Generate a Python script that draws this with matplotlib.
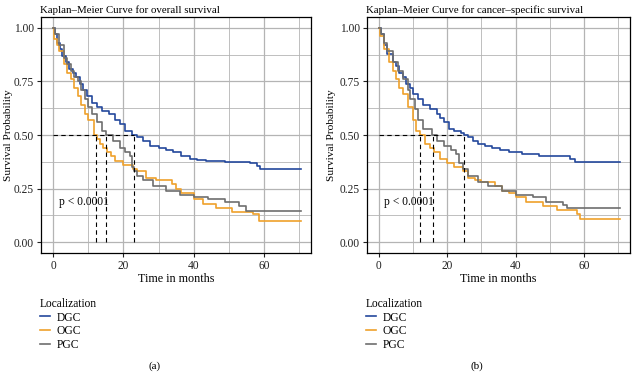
import matplotlib

matplotlib.use('Agg')
import matplotlib.pyplot as plt
from matplotlib.ticker import MultipleLocator

plt.rcParams['font.family'] = ['Liberation Serif', 'DejaVu Serif']

GROUPS = ['DGC', 'OGC', 'PGC']
COLORS = {'DGC': '#24489c', 'OGC': '#efa12b', 'PGC': '#6e6e6e'}

# panel (a): overall survival, step breakpoints (months, survival)
os_dgc_t = [0, 0.5, 1, 2, 2.5, 3.5, 4.5, 5.5, 6.5, 7.5, 8.5, 9.5, 11, 12.5, 14, 16, 17.5, 19, 20.5,
            22.5, 24, 25.6, 27.5, 30, 32, 34, 36.5, 39, 41, 43.6, 49, 56, 58.2, 58.8, 70.5]
os_dgc_s = [1.0, 0.97, 0.93, 0.90, 0.87, 0.84, 0.81, 0.79, 0.77, 0.74, 0.71, 0.68, 0.65, 0.63, 0.61,
            0.60, 0.57, 0.55, 0.52, 0.50, 0.49, 0.47, 0.45, 0.44, 0.43, 0.42, 0.40, 0.39, 0.385, 0.38,
            0.375, 0.37, 0.355, 0.34, 0.34]
os_ogc_t = [0, 0.3, 1, 1.5, 3, 4, 5, 6, 7, 8, 9, 10, 11.5, 12.5, 13.3, 14.3, 15.2, 16.5, 17.6, 20,
            22.8, 24, 26.5, 29.4, 33.7, 35, 36.5, 40, 42.6, 46.4, 51, 57, 58.7, 70.5]
os_ogc_s = [1.0, 0.95, 0.92, 0.89, 0.83, 0.79, 0.76, 0.72, 0.68, 0.64, 0.60, 0.57, 0.50, 0.48, 0.46,
            0.44, 0.42, 0.40, 0.38, 0.36, 0.34, 0.33, 0.30, 0.29, 0.27, 0.25, 0.23, 0.20, 0.18, 0.16,
            0.14, 0.13, 0.10, 0.10]
os_pgc_t = [0, 0.5, 1.5, 3, 4, 5, 6, 7, 8, 9, 10, 11, 12.5, 14, 15, 17, 19, 20.5, 22, 22.5, 23, 24,
            25.6, 28.5, 32, 36, 40, 44, 49, 53, 55, 70.5]
os_pgc_s = [1.0, 0.97, 0.92, 0.86, 0.83, 0.80, 0.77, 0.75, 0.71, 0.67, 0.63, 0.60, 0.56, 0.52, 0.50,
            0.47, 0.44, 0.42, 0.40, 0.35, 0.33, 0.31, 0.29, 0.26, 0.24, 0.22, 0.21, 0.20, 0.19, 0.17,
            0.145, 0.145]

# panel (b): cancer-specific survival
css_dgc_t = [0, 0.5, 1.5, 2.5, 4, 5, 6, 7, 8, 9, 10, 11.5, 13, 15, 17, 18, 19, 20.5, 22, 24, 25, 26,
             27.5, 29, 31, 33, 35.5, 38, 42, 47, 56, 57.5, 70.5]
css_dgc_s = [1.0, 0.97, 0.92, 0.88, 0.84, 0.82, 0.79, 0.77, 0.74, 0.72, 0.69, 0.67, 0.64, 0.62, 0.60,
             0.58, 0.56, 0.53, 0.52, 0.51, 0.50, 0.49, 0.47, 0.46, 0.45, 0.44, 0.43, 0.42, 0.41, 0.40,
             0.39, 0.372, 0.372]
css_ogc_t = [0, 0.3, 1.5, 3, 4, 5, 6, 7, 8.5, 10, 11, 12, 13.5, 15, 16, 18, 20, 22, 24.5, 26, 28, 30,
             34, 36, 38, 40, 43, 48, 52, 58, 59, 70.5]
css_ogc_s = [1.0, 0.96, 0.90, 0.84, 0.80, 0.76, 0.72, 0.69, 0.63, 0.57, 0.52, 0.50, 0.46, 0.44, 0.42,
             0.39, 0.37, 0.35, 0.33, 0.30, 0.29, 0.28, 0.26, 0.24, 0.23, 0.21, 0.19, 0.17, 0.15, 0.13,
             0.11, 0.11]
css_pgc_t = [0, 0.5, 1.5, 2.5, 4, 5.5, 7, 8.5, 9, 10.5, 11.5, 13, 15.5, 17, 19, 21, 22.5, 23.5, 24.5,
             26, 29, 32, 36, 40, 45, 49, 54, 55, 70.5]
css_pgc_s = [1.0, 0.97, 0.93, 0.89, 0.84, 0.80, 0.76, 0.71, 0.67, 0.62, 0.57, 0.53, 0.50, 0.47, 0.45,
             0.43, 0.41, 0.37, 0.34, 0.31, 0.28, 0.26, 0.24, 0.22, 0.21, 0.19, 0.175, 0.16, 0.16]

# median survival per group (months)
os_medians = [23.1, 12.1, 15.0]
css_medians = [24.9, 11.9, 15.8]

panels = [
    dict(title='Kaplan–Meier Curve for overall survival', tag='(a)',
         curves={'DGC': (os_dgc_t, os_dgc_s), 'OGC': (os_ogc_t, os_ogc_s),
                 'PGC': (os_pgc_t, os_pgc_s)},
         medians=os_medians, rect=[0.0644, 0.320, 0.424, 0.634], center=0.243, ypad=0.5),
    dict(title='Kaplan–Meier Curve for cancer–specific survival', tag='(b)',
         curves={'DGC': (css_dgc_t, css_dgc_s), 'OGC': (css_ogc_t, css_ogc_s),
                 'PGC': (css_pgc_t, css_pgc_s)},
         medians=css_medians, rect=[0.576, 0.320, 0.413, 0.634], center=0.748, ypad=3),
]

fig = plt.figure(figsize=(6.37, 3.72), dpi=100)

for p in panels:
    ax = fig.add_axes(p['rect'])
    ax.set_xlim(-3.5, 73.5)
    ax.set_ylim(-0.05, 1.05)
    ax.xaxis.set_major_locator(MultipleLocator(20))
    ax.xaxis.set_minor_locator(MultipleLocator(10))
    ax.yaxis.set_major_locator(MultipleLocator(0.25))
    ax.yaxis.set_minor_locator(MultipleLocator(0.125))
    ax.set_yticks([0, 0.25, 0.5, 0.75, 1.0])
    ax.set_yticklabels(['0.00', '0.25', '0.50', '0.75', '1.00'])
    ax.grid(which='major', color='#b4b4b4', lw=0.9)
    ax.grid(which='minor', color='#b4b4b4', lw=0.6)
    ax.set_axisbelow(True)
    ax.tick_params(which='major', length=3, width=0.8, labelsize=8.3, colors='#222222', pad=2)
    ax.tick_params(which='minor', length=0)
    for sp in ax.spines.values():
        sp.set_linewidth(0.9)

    for g in GROUPS:
        t, s = p['curves'][g]
        ax.step(t, s, where='post', color=COLORS[g], lw=1.2, label=g)

    # median survival reference lines
    ax.plot([0, max(p['medians'])], [0.5, 0.5], color='black', ls=(0, (4, 3)), lw=0.8)
    for m in p['medians']:
        ax.plot([m, m], [0, 0.5], color='black', ls=(0, (4, 3)), lw=0.8)

    ax.text(1.5, 0.19, 'p < 0.0001', fontsize=8.3, ha='left', va='center')

    ax.set_title(p['title'], fontsize=7.8, loc='left', pad=3, x=-0.005)
    ax.set_xlabel('Time in months', fontsize=8.7, labelpad=1)
    ax.set_ylabel('Survival Probability', fontsize=8.2, labelpad=p['ypad'])

    ax.legend(title='Localization', loc='upper left', bbox_to_anchor=(-0.005, -0.19),
              frameon=False, fontsize=8.3, title_fontsize=8.3, handlelength=0.9,
              handletextpad=0.6, labelspacing=0.15, alignment='left', borderaxespad=0,
              borderpad=0)

    fig.text(p['center'], 0.016, p['tag'], fontsize=8, ha='center', va='center')

fig.savefig('out.png', dpi=100)
